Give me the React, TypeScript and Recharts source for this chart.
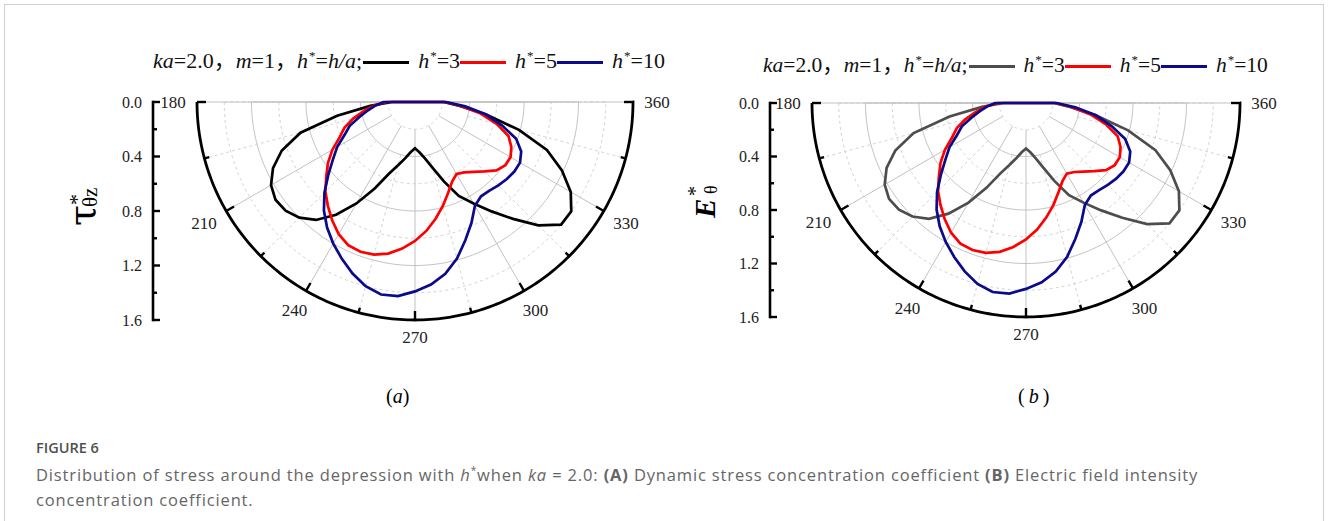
import React from 'react';
import {
  RadarChart,
  Radar,
  PolarGrid,
  PolarAngleAxis,
  PolarRadiusAxis,
  Legend,
  ComposedChart,
  XAxis,
  YAxis,
} from 'recharts';

// sampling angles (deg) around the lower half of the depression
const ANGLES = [
  180, 185, 190, 195, 200, 205, 210, 215, 220, 225, 230, 235, 240, 245, 250, 255, 260, 265, 270,
  275, 280, 285, 290, 295, 300, 305, 310, 315, 320, 325, 330, 335, 340, 345, 350, 355, 360,
];

// normalised concentration coefficient for each depth ratio h* = h/a
const H3 = [
  0.17, 0.33, 0.58, 0.87, 1.04, 1.15, 1.22, 1.25, 1.24, 1.2, 1.13, 1.01, 0.86, 0.7, 0.56, 0.48, 0.42, 0.37, 0.34,
  0.37, 0.42, 0.5, 0.62, 0.76, 0.86, 0.98, 1.12, 1.28, 1.4, 1.4, 1.32, 1.19, 1.03, 0.79, 0.53, 0.33, 0.21,
];
const H5 = [
  0.21, 0.3, 0.38, 0.47, 0.55, 0.61, 0.7, 0.78, 0.85, 0.93, 0.995, 1.06, 1.12, 1.16, 1.17, 1.16, 1.13, 1.08, 1.02,
  0.95, 0.87, 0.79, 0.71, 0.645, 0.61, 0.63, 0.67, 0.72, 0.78, 0.81, 0.81, 0.78, 0.73, 0.62, 0.49, 0.34, 0.22,
];
const H10 = [
  0.23, 0.29, 0.35, 0.42, 0.51, 0.57, 0.66, 0.735, 0.83, 0.94, 1.04, 1.125, 1.2, 1.27, 1.34, 1.4, 1.435, 1.43, 1.39,
  1.345, 1.28, 1.19, 1.08, 0.98, 0.88, 0.845, 0.85, 0.865, 0.88, 0.89, 0.89, 0.86, 0.79, 0.66, 0.53, 0.37, 0.23,
];

const SERIES_KEYS = ['h3', 'h5', 'h10'];
const H_VALUES = ['3', '5', '10'];

const RADIUS_MAX = 1.6;
const RADIAL_TICKS = [0, 0.2, 0.4, 0.6, 0.8, 1.0, 1.2, 1.4, 1.6];
const ANGLE_TICKS = [180, 195, 210, 225, 240, 255, 270, 285, 300, 315, 330, 345, 360];
const MAJOR_RINGS = [0.4, 0.8, 1.2];
const MINOR_RINGS = [0.2, 0.6, 1.0, 1.4];
const MAJOR_SPOKES = [180, 210, 240, 270, 300, 330, 360];
const MINOR_SPOKES = [195, 225, 255, 285, 315, 345];

const rows = ANGLES.map((angle, i) => ({ angle, h3: H3[i], h5: H5[i], h10: H10[i] }));

// vertices for the half-circle rings (1 degree apart)
const ARC = Array.from({ length: 181 }, (_, i) => 180 + i);

const SERIF = '"Liberation Serif", "Times New Roman", "Noto Sans CJK SC", serif';

const Star = () => (
  <span style={{ fontSize: 13, position: 'relative', top: -8, marginLeft: 1 }}>*</span>
);

const legendContent = (fontSize: number) => (props: any) => {
  const payload = [...(props.payload ?? [])].sort(
    (a: any, b: any) => SERIES_KEYS.indexOf(a.dataKey) - SERIES_KEYS.indexOf(b.dataKey),
  );
  return (
    <div
      style={{
        display: 'flex',
        alignItems: 'center',
        whiteSpace: 'nowrap',
        fontFamily: SERIF,
        fontSize,
        color: '#111',
        lineHeight: '24px',
      }}
    >
      <span style={{ marginRight: 1 }}>
        <i>ka</i>=2.0，<i>m</i>=1，<i>h</i>
        <Star />=<i>h/a</i>;
      </span>
      {payload.map((entry: any) => {
        const idx = SERIES_KEYS.indexOf(entry.dataKey);
        return (
          <React.Fragment key={entry.dataKey}>
            <span
              style={{ display: 'inline-block', width: 46, height: 3, background: entry.color, marginRight: 9 }}
            />
            <span>
              <i>h</i>
              <Star />={H_VALUES[idx]}
            </span>
          </React.Fragment>
        );
      })}
    </div>
  );
};

// ticks point inward from the rim, labels sit outside it
const angleTick = (cx: number, cy: number, r: number) => (props: any) => {
  const { payload } = props;
  const rad = (-payload.coordinate * Math.PI) / 180;
  const ux = Math.cos(rad);
  const uy = Math.sin(rad);
  const major = Math.round(payload.value) % 30 === 0;
  const len = major ? 9 : 5;
  const gap = 11 + 13 * Math.abs(ux) + 6.5 * Math.abs(uy);
  return (
    <g>
      <line
        x1={cx + r * ux}
        y1={cy + r * uy}
        x2={cx + (r - len) * ux}
        y2={cy + (r - len) * uy}
        stroke="#000"
        strokeWidth={2.4}
      />
      {major && (
        <text
          x={cx + (r + gap) * ux}
          y={cy + (r + gap) * uy}
          textAnchor="middle"
          dominantBaseline="central"
          fontFamily={SERIF}
          fontSize={17}
          fill="#222"
        >
          {Math.round(payload.value)}
        </text>
      )}
    </g>
  );
};

type PanelProps = {
  cx: number;
  cy: number;
  r: number;
  colors: string[];
  legendTop: number;
  legendFont: number;
};

function PolarPanel({ cx, cy, r, colors, legendTop, legendFont }: PanelProps) {
  const ringPx = (v: number) => (v / RADIUS_MAX) * r;
  const spokeStart = ringPx(0.2);
  const minorStart = ringPx(0.4);
  const dashedSpoke = [0, minorStart, ...Array(Math.ceil(r / 6) + 2).fill('3 3')].join(' ');
  return (
    <RadarChart
      width={540}
      height={320}
      data={rows}
      cx={cx}
      cy={cy}
      outerRadius={r}
      startAngle={180}
      endAngle={360}
      margin={{ top: 0, right: 0, bottom: 0, left: 0 }}
    >
      <PolarGrid
        gridType="polygon"
        polarAngles={ARC}
        polarRadius={MINOR_RINGS.map(ringPx)}
        radialLines={false}
        stroke="#d4d4d4"
        strokeDasharray="3 3"
      />
      <PolarGrid
        gridType="polygon"
        polarAngles={ARC}
        polarRadius={MAJOR_RINGS.map(ringPx)}
        radialLines={false}
        stroke="#c2c2c2"
      />
      <PolarGrid polarAngles={MINOR_SPOKES} polarRadius={[]} stroke="#d4d4d4" strokeDasharray={dashedSpoke} />
      <PolarGrid
        polarAngles={MAJOR_SPOKES}
        polarRadius={[]}
        stroke="#c2c2c2"
        strokeDasharray={`0 ${spokeStart} ${r} 0`}
      />
      {/* black rim: dash covers the arc, gap hides the closing diameter */}
      <PolarGrid
        gridType="polygon"
        polarAngles={ARC}
        polarRadius={[r]}
        radialLines={false}
        stroke="#000"
        strokeWidth={2.8}
        strokeDasharray={`${Math.PI * r} ${3 * r}`}
      />
      <PolarRadiusAxis
        type="number"
        domain={[0, RADIUS_MAX]}
        allowDataOverflow
        allowDecimals
        tickCount={RADIAL_TICKS.length}
        tick={false}
        axisLine={false}
      />
      <PolarAngleAxis
        dataKey="angle"
        type="number"
        domain={[180, 360]}
        allowDataOverflow
        ticks={ANGLE_TICKS}
        tickCount={13}
        axisLine={false}
        tickLine={false}
        tick={angleTick(cx, cy, r)}
      />
      {SERIES_KEYS.map((key, i) => (
        <Radar
          key={key}
          dataKey={key}
          name={`h*=${H_VALUES[i]}`}
          stroke={colors[i]}
          strokeWidth={2.7}
          fill="none"
          fillOpacity={0}
          dot={false}
          isAnimationActive={false}
        />
      ))}
      <Legend
        verticalAlign="middle"
        align="left"
        layout="horizontal"
        wrapperStyle={{ top: legendTop, left: 3, width: 'auto' }}
        content={legendContent(legendFont)}
      />
    </RadarChart>
  );
}

const radialTick = (props: any) => {
  const { x, y, payload } = props;
  const v = payload.value as number;
  const major = Math.round(v * 10) % 4 === 0;
  return (
    <g>
      <line x1={x} y1={y} x2={x + (major ? 8 : 4)} y2={y} stroke="#000" strokeWidth={2.4} />
      {major && (
        <text
          x={x - 11}
          y={y}
          textAnchor="end"
          dominantBaseline="central"
          fontFamily={SERIF}
          fontSize={16}
          fill="#222"
        >
          {v.toFixed(1)}
        </text>
      )}
    </g>
  );
};

const tauTitle = (props: any) => {
  const vb = props.viewBox;
  const x = vb.x + 40;
  const y = vb.y + vb.height / 2;
  return (
    <g transform={`translate(${x},${y}) rotate(-90)`} fill="#000">
      <text x={-15} y={15} fontSize={38} fontFamily='"DejaVu Serif", serif'>τ</text>
      <text x={6} y={4} fontSize={22} fontFamily={SERIF}>*</text>
      <text x={4} y={17} fontSize={21} fontFamily={SERIF}>θz</text>
    </g>
  );
};

const fieldTitle = (props: any) => {
  const vb = props.viewBox;
  const x = vb.x + 43;
  const y = vb.y + vb.height / 2;
  return (
    <g transform={`translate(${x},${y}) rotate(-90)`} fontFamily={SERIF} fill="#000">
      <text x={-8} y={15} fontSize={29} fontStyle="italic" fontWeight="bold">E</text>
      <text x={14} y={2} fontSize={20}>*</text>
      <text x={16} y={17} fontSize={18}>θ</text>
    </g>
  );
};

type ScaleProps = { height: number; top: number; title: (p: any) => React.ReactNode };

function RadialScale({ height, top, title }: ScaleProps) {
  return (
    <ComposedChart
      width={120}
      height={height}
      data={RADIAL_TICKS.map((v) => ({ v }))}
      margin={{ top, bottom: 15, left: 0, right: 0 }}
    >
      <XAxis dataKey="v" hide />
      <YAxis
        type="number"
        domain={[0, RADIUS_MAX]}
        allowDataOverflow
        reversed
        ticks={RADIAL_TICKS}
        interval={0}
        width={113}
        tickSize={0}
        tickMargin={0}
        tickLine={false}
        axisLine={{ stroke: '#000', strokeWidth: 2.6, strokeLinecap: 'square' }}
        tick={radialTick}
        label={title}
      />
    </ComposedChart>
  );
}

const abs = (left: number, top: number): React.CSSProperties => ({ position: 'absolute', left, top });

export default function App() {
  return (
    <div
      style={{
        position: 'absolute',
        left: 0,
        top: 0,
        width: 1328,
        height: 521,
        overflow: 'hidden',
        background: '#fff',
      }}
    >
      <div
        style={{
          position: 'absolute',
          left: 4,
          top: 4,
          width: 1320,
          height: 600,
          border: '1px solid #cfcfcf',
          boxSizing: 'border-box',
        }}
      />

      <div style={abs(40, 90)}>
        <RadialScale height={245} top={12} title={tauTitle} />
      </div>
      <div style={abs(150, 40)}>
        <PolarPanel
          cx={265}
          cy={62}
          r={218}
          colors={['#000000', '#ff0000', '#0a0a8a']}
          legendTop={9}
          legendFont={22}
        />
      </div>

      <div style={abs(657, 90)}>
        <RadialScale height={242} top={13} title={fieldTitle} />
      </div>
      <div style={abs(760, 40)}>
        <PolarPanel
          cx={266}
          cy={63}
          r={214}
          colors={['#4d4d4d', '#ff0000', '#0a0a8a']}
          legendTop={13}
          legendFont={21.5}
        />
      </div>

      <div style={{ ...abs(386, 385), fontFamily: SERIF, fontSize: 20 }}>
        (<i>a</i>)
      </div>
      <div style={{ ...abs(1018, 385), fontFamily: SERIF, fontSize: 20, letterSpacing: 4 }}>
        (<i>b</i>)
      </div>

      <div
        style={{
          ...abs(36, 438),
          fontFamily: '"Open Sans", "Noto Sans", sans-serif',
          fontSize: 14.5,
          fontWeight: 600,
          color: '#505050',
        }}
      >
        FIGURE 6
      </div>
      <div
        style={{
          ...abs(36, 458),
          fontFamily: '"Open Sans", "Noto Sans", sans-serif',
          fontSize: 16.5,
          letterSpacing: 0.85,
          lineHeight: '25px',
          color: '#666',
          whiteSpace: 'nowrap',
        }}
      >
        Distribution of stress around the depression with <i>h</i>
        <sup style={{ fontSize: 10 }}>*</sup>when <i>ka</i> = 2.0: <b>(A)</b> Dynamic stress concentration
        coefficient <b>(B)</b> Electric field intensity
        <br />
        concentration coefficient.
      </div>
    </div>
  );
}
